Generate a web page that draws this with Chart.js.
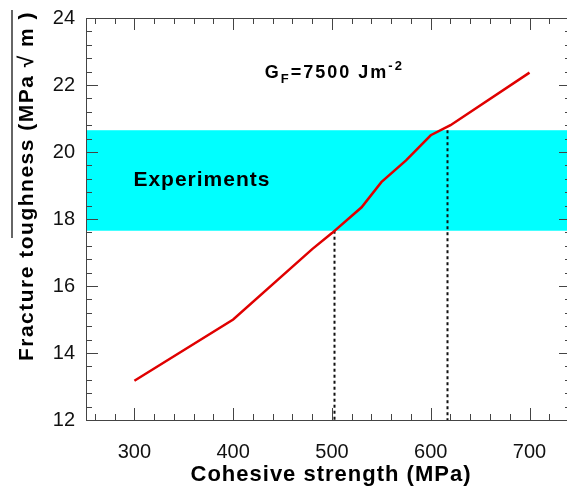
<!DOCTYPE html>
<html>
<head>
<meta charset="utf-8">
<script src="https://cdn.jsdelivr.net/npm/chart.js@4.4.1/dist/chart.umd.min.js"></script>
<style>
  html, body { margin: 0; padding: 0; background: #fff; overflow: hidden; }
  #wrap { width: 567px; height: 489px; overflow: hidden; }
</style>
</head>
<body>
<div id="wrap"><canvas id="chart" width="572" height="489"></canvas></div>
<script>
// Cohesive strength (MPa) vs fracture toughness (MPa sqrt m)
const strength = [300, 400, 480, 500, 530, 550, 575, 600, 620, 700];
const toughness = [13.17, 15.0, 17.1, 17.58, 18.35, 19.1, 19.75, 20.5, 20.8, 22.37];

// experimental band and read-off lines
const bandRange = [17.65, 20.65];
const markerX = [502, 616];
const markerTop = [17.65, 20.65];

const xTicks = [300, 400, 500, 600, 700];
const yTicks = [12, 14, 16, 18, 20, 22, 24];

const FONT = '"Liberation Sans", Arial, sans-serif';

const decorations = {
  id: 'decorations',
  beforeDatasetsDraw(chart) {
    const { ctx, chartArea: a, scales: { x, y } } = chart;
    ctx.save();
    // cyan band
    ctx.fillStyle = '#00ffff';
    const yTop = y.getPixelForValue(bandRange[1]);
    const yBot = y.getPixelForValue(bandRange[0]);
    ctx.fillRect(a.left, yTop, a.right - a.left, yBot - yTop);
    // dotted drop lines
    ctx.strokeStyle = '#111';
    ctx.lineWidth = 2;
    ctx.setLineDash([3, 3]);
    markerX.forEach((v, i) => {
      const px = Math.round(x.getPixelForValue(v)) + 0.5;
      ctx.beginPath();
      ctx.moveTo(px, y.getPixelForValue(markerTop[i]));
      ctx.lineTo(px, a.bottom);
      ctx.stroke();
    });
    ctx.restore();
  },
  afterDatasetsDraw(chart) {
    const { ctx, chartArea: a, scales: { x, y } } = chart;
    ctx.save();
    ctx.strokeStyle = '#444';
    ctx.lineWidth = 1;
    // frame
    ctx.beginPath();
    ctx.moveTo(a.left + 0.5, a.top + 0.5);
    ctx.lineTo(a.right - 0.5, a.top + 0.5);
    ctx.lineTo(a.right - 0.5, a.bottom + 0.5);
    ctx.lineTo(a.left + 0.5, a.bottom + 0.5);
    ctx.closePath();
    ctx.stroke();
    // x ticks (bottom and top), minor every 20
    ctx.beginPath();
    for (let v = 260; v <= x.max; v += 20) {
      const px = Math.round(x.getPixelForValue(v)) + 0.5;
      const len = v % 100 === 0 ? 12 : 6;
      ctx.moveTo(px, a.bottom);
      ctx.lineTo(px, a.bottom - len);
      ctx.moveTo(px, a.top);
      ctx.lineTo(px, a.top + len);
    }
    // y ticks (left and right), minor every 0.4
    for (let i = 0; i <= 30; i++) {
      const v = 12 + i * 0.4;
      const py = Math.round(y.getPixelForValue(v)) + 0.5;
      const len = i % 5 === 0 ? 12 : 6;
      ctx.moveTo(a.left, py);
      ctx.lineTo(a.left + len, py);
      ctx.moveTo(a.right, py);
      ctx.lineTo(a.right - len, py);
    }
    ctx.stroke();
    ctx.restore();
  },
  afterDraw(chart) {
    const { ctx, scales: { x, y } } = chart;
    ctx.save();
    ctx.fillStyle = '#000';
    ctx.textBaseline = 'alphabetic';

    // G_F annotation
    ctx.letterSpacing = '2px';
    let gx = x.getPixelForValue(432);
    const gy = y.getPixelForValue(22.22);
    ctx.font = 'bold 18px ' + FONT;
    ctx.fillText('G', gx, gy);
    gx += ctx.measureText('G').width;
    ctx.font = 'bold 13px ' + FONT;
    ctx.fillText('F', gx, gy + 5);
    gx += ctx.measureText('F').width;
    ctx.font = 'bold 18px ' + FONT;
    ctx.fillText('=7500 Jm', gx, gy);
    gx += ctx.measureText('=7500 Jm').width;
    ctx.font = 'bold 13px ' + FONT;
    ctx.fillText('-2', gx, gy - 8);

    // Experiments label
    ctx.letterSpacing = '1px';
    ctx.font = 'bold 21px ' + FONT;
    ctx.textBaseline = 'middle';
    ctx.fillText('Experiments', x.getPixelForValue(299), y.getPixelForValue(19.16));

    // x axis title
    ctx.textAlign = 'center';
    ctx.font = 'bold 22px ' + FONT;
    ctx.fillText('Cohesive strength (MPa)', 331, 475);

    // y axis title
    ctx.letterSpacing = '1.5px';
    ctx.translate(27, 186);
    ctx.rotate(-Math.PI / 2);
    ctx.font = 'bold 21px ' + FONT;
    ctx.fillText('Fracture toughness (MPa \u221A m )', 0, 0);
    ctx.restore();

    // stray overline from the sqrt sign
    ctx.save();
    ctx.strokeStyle = '#333';
    ctx.lineWidth = 1.5;
    ctx.beginPath();
    ctx.moveTo(12, 10);
    ctx.lineTo(12, 238);
    ctx.stroke();
    ctx.restore();
  }
};

new Chart(document.getElementById('chart'), {
  type: 'line',
  data: {
    datasets: [{
      data: strength.map((s, i) => ({ x: s, y: toughness[i] })),
      borderColor: '#e00000',
      borderWidth: 2.5,
      pointRadius: 0,
      tension: 0,
      fill: false
    }]
  },
  options: {
    responsive: false,
    animation: false,
    events: [],
    layout: { padding: { top: 18, right: 1, left: 0, bottom: 0 } },
    plugins: { legend: { display: false }, tooltip: { enabled: false } },
    scales: {
      x: {
        type: 'linear',
        min: 251,
        max: 742,
        afterFit(s) { s.height = 69; },
        afterBuildTicks(s) { s.ticks = xTicks.map(v => ({ value: v })); },
        grid: { display: false },
        border: { display: false },
        ticks: {
          padding: 12,
          color: '#111',
          font: { family: FONT, size: 20 },
          maxRotation: 0,
          autoSkip: false
        }
      },
      y: {
        type: 'linear',
        min: 12,
        max: 24,
        afterFit(s) { s.width = 86; },
        afterBuildTicks(s) { s.ticks = yTicks.map(v => ({ value: v })); },
        grid: { display: false },
        border: { display: false },
        ticks: {
          padding: 3,
          color: '#111',
          font: { family: FONT, size: 20 },
          autoSkip: false
        }
      }
    }
  },
  plugins: [decorations]
});
</script>
</body>
</html>
